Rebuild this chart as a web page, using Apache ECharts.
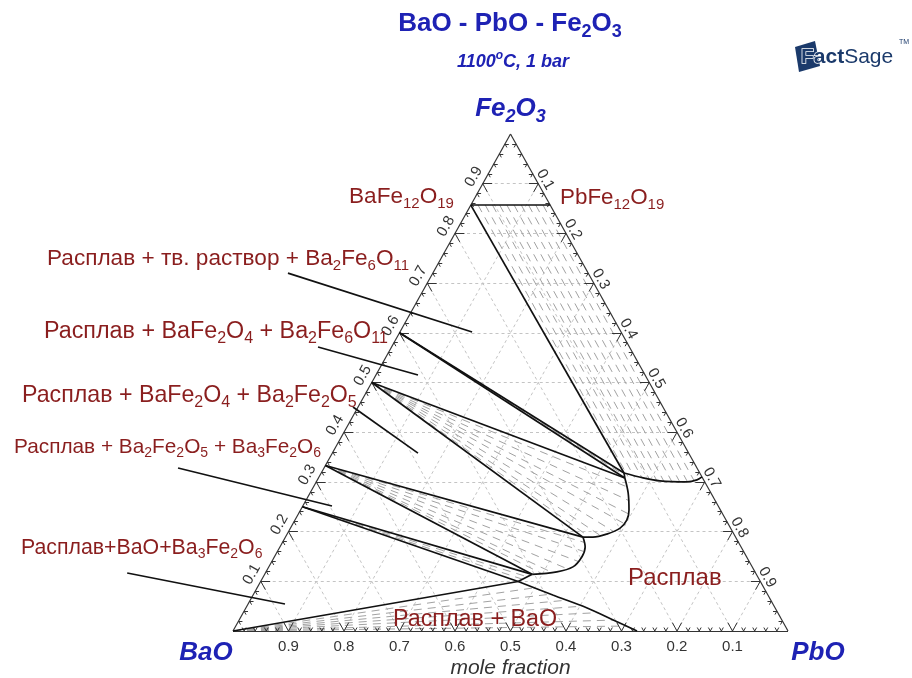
<!DOCTYPE html>
<html>
<head>
<meta charset="utf-8">
<script src="https://cdn.jsdelivr.net/npm/echarts@6.0.0/dist/echarts.min.js"></script>
<style>
html,body{margin:0;padding:0;background:#ffffff;}
#chart{width:912px;height:678px;}
</style>
</head>
<body>
<div id="chart"></div>
<script>
// ---------- DATA: compositions as [x(PbO), x(Fe2O3)];  x(BaO) = 1 - x(PbO) - x(Fe2O3)
const BaO_corner = [0, 0];
const BaFe12O19 = [0, 0.857];
const PbFe12O19 = [0.143, 0.857];
const Ba2Fe6O11 = [0, 0.600];
const BaFe2O4   = [0, 0.500];
const Ba2Fe2O5  = [0, 0.333];
const Ba3Fe2O6  = [0, 0.250];
// invariant liquid compositions
const J1a = [0.5455, 0.318];
const J1  = [0.552, 0.308];
const J2  = [0.536, 0.189];
const J3  = [0.482, 0.114];
const J4  = [0.464, 0.0996];

// liquidus curves
const liqSS      = [[0.5455,0.318],[0.585,0.308],[0.618,0.302],[0.668,0.300],[0.684,0.304],[0.690,0.310]];
const liqTop     = [[0.5455,0.318],[0.552,0.308]];
const liqBaFe2O4 = [[0.552,0.308],[0.573,0.278],[0.592,0.243],[0.598,0.223],[0.594,0.207],[0.576,0.195],[0.554,0.189],[0.536,0.189]];
const liqBa2Fe2O5= [[0.536,0.189],[0.550,0.169],[0.554,0.149],[0.548,0.129],[0.524,0.119],[0.482,0.114]];
const liqBa3Fe2O6= [[0.482,0.114],[0.464,0.0996]];
const liqBaO     = [[0.464,0.0996],[0.540,0.0724],[0.615,0.0463],[0.674,0.0221],[0.728,0]];

// straight phase boundaries (tie lines of three-phase triangles)
const boundaryTies = [
  [BaFe12O19, PbFe12O19], [BaFe12O19, J1a], [Ba2Fe6O11, J1a], [Ba2Fe6O11, J1],
  [BaFe2O4, J1], [BaFe2O4, J2], [Ba2Fe2O5, J2], [Ba2Fe2O5, J3],
  [Ba3Fe2O6, J3], [Ba3Fe2O6, J4], [BaO_corner, J4]
];

// tie-line hatching in two-phase fields
const ssTieSolidPbO = [0.013,0.026,0.039,0.052,0.065,0.078,0.091,0.104,0.117,0.130];
const ssTieLiquid   = [[0.556,0.311],[0.569,0.309],[0.583,0.308],[0.597,0.306],[0.611,0.304],[0.625,0.302],[0.640,0.301],[0.655,0.300],[0.669,0.300],[0.680,0.302]];
const fanBa2Fe6O11  = [[0.549,0.313]];
const fanBaFe2O4    = [[0.565,0.290],[0.583,0.262],[0.594,0.236],[0.597,0.216],[0.586,0.200],[0.566,0.192],[0.548,0.189]];
const fanBa2Fe2O5   = [[0.545,0.178],[0.552,0.160],[0.552,0.140],[0.540,0.125],[0.518,0.117],[0.500,0.115]];
const fanBa3Fe2O6   = [[0.476,0.109],[0.470,0.104]];
const fanBaO        = [[0.500,0.087],[0.535,0.074],[0.570,0.062],[0.605,0.050],[0.640,0.037],[0.675,0.022],[0.705,0.010]];

// label pointer lines (composition space)
const pointerLines = [
  [[-0.261,0.720],[0.130,0.6016]],
  [[-0.1325,0.5714],[0.0758,0.515]],
  [[-0.0092,0.4507],[0.1543,0.358]],
  [[-0.263,0.328],[0.0526,0.2515]],
  [[-0.249,0.1167],[0.0665,0.0543]]
];

// axis ticks
const tickValues = [0.1,0.2,0.3,0.4,0.5,0.6,0.7,0.8,0.9];
const tickLabels = ['0.1','0.2','0.3','0.4','0.5','0.6','0.7','0.8','0.9'];

// ---------- helpers
const toXY = ([p, f]) => [p + f / 2, f];
const seg = (a, b) => ({ coords: [toXY(a), toXY(b)] });
const add = (a, d, L) => [a[0] + d[0] * L, a[1] + d[1] * L];

const gridSegs = [];
tickValues.forEach(v => {
  gridSegs.push(seg([0, v], [1 - v, v]));
  gridSegs.push(seg([v, 0], [v, 1 - v]));
  gridSegs.push(seg([1 - v, 0], [0, 1 - v]));
});

const tickSegs = [];
function vTick(pt, d1, d2, L) { tickSegs.push(seg(pt, add(pt, d1, L))); tickSegs.push(seg(pt, add(pt, d2, L))); }
for (let k = 1; k < 50; k++) {
  const v = k / 50;
  const L = (k % 5 === 0) ? 0.017 : 0.007;
  vTick([v, 0], [0, 1], [-1, 1], L);          // bottom edge
  vTick([0, v], [1, 0], [1, -1], L);          // left edge
  vTick([v, 1 - v], [-1, 0], [0, -1], L);     // right edge
}

const hatchSegs = [];
ssTieSolidPbO.forEach((p, i) => hatchSegs.push(seg([p, 0.857], ssTieLiquid[i])));
fanBa2Fe6O11.forEach(q => hatchSegs.push(seg(Ba2Fe6O11, q)));
fanBaFe2O4.forEach(q => hatchSegs.push(seg(BaFe2O4, q)));
fanBa2Fe2O5.forEach(q => hatchSegs.push(seg(Ba2Fe2O5, q)));
fanBa3Fe2O6.forEach(q => hatchSegs.push(seg(Ba3Fe2O6, q)));
fanBaO.forEach(q => hatchSegs.push(seg(BaO_corner, q)));

const lineSeries = (data, style, extra) => Object.assign({
  type: 'lines', coordinateSystem: 'cartesian2d', silent: true, clip: false,
  data: data, lineStyle: Object.assign({ opacity: 1 }, style)
}, extra || {});

const curve = (pts) => ({
  type: 'line', data: pts.map(toXY), smooth: 0.35, symbol: 'none', silent: true, clip: false,
  lineStyle: { color: '#111', width: 1.7 }, z: 5
});

const chart = echarts.init(document.getElementById('chart'));
chart.setOption({
  animation: false,
  backgroundColor: '#ffffff',
  grid: { left: 233, top: 134, width: 555, height: 497 },
  xAxis: { type: 'value', min: 0, max: 1, show: false },
  yAxis: { type: 'value', min: 0, max: 1, show: false },
  series: [
    lineSeries(gridSegs, { color: '#c4c4c4', width: 1, type: [3, 3] }),
    lineSeries(hatchSegs, { color: '#a2a2a2', width: 1, type: [8, 6] }),
    lineSeries(boundaryTies.map(t => seg(t[0], t[1])), { color: '#111', width: 1.7 }, { z: 5 }),
    curve(liqSS), curve(liqTop), curve(liqBaFe2O4), curve(liqBa2Fe2O5), curve(liqBa3Fe2O6), curve(liqBaO),
    lineSeries([seg([0,0],[1,0]), seg([1,0],[0,1]), seg([0,1],[0,0])], { color: '#333', width: 1.2 }),
    lineSeries(tickSegs, { color: '#333', width: 1 }),
    lineSeries(pointerLines.map(l => seg(l[0], l[1])), { color: '#111', width: 1.7 }, { z: 6 })
  ]
});

// ---------- text (layout)
const FF = '"Liberation Sans", Arial, Helvetica, sans-serif';
const RED = '#8a1e1e';
const BLUE = '#1e22b4';
function rt(s) {
  return s.split(/(_\{[^}]*\}|\^\{[^}]*\})/).filter(x => x).map(p =>
    p.startsWith('_{') ? '{s|' + p.slice(2, -1) + '}' :
    p.startsWith('^{') ? '{u|' + p.slice(2, -1) + '}' : '{n|' + p + '}').join('');
}
function richStyle(size, color, weight, style) {
  const sub = Math.round(size * 0.68);
  return {
    n: { fontSize: size, fontFamily: FF, fill: color, fontWeight: weight, fontStyle: style, lineHeight: Math.round(size * 1.4) },
    s: { fontSize: sub, fontFamily: FF, fill: color, fontWeight: weight, fontStyle: style, padding: [Math.round(size * 0.62), 0, 0, 0] },
    u: { fontSize: sub, fontFamily: FF, fill: color, fontWeight: weight, fontStyle: style, padding: [0, 0, Math.round(size * 0.7), 0] }
  };
}
function txt(s, x, y, size, color, align, weight, style, rotation) {
  return {
    type: 'text', x: x, y: y, rotation: rotation || 0, silent: true, z: 20,
    style: { text: rt(s), rich: richStyle(size, color, weight || 'normal', style || 'normal'),
             align: align || 'left', verticalAlign: 'middle' }
  };
}
const px = (p) => chart.convertToPixel({ gridIndex: 0 }, toXY(p));
const graphics = [];
// tick labels
const rotL = 61 * Math.PI / 180;
tickValues.forEach((v, i) => {
  const a = px([0, v]);       graphics.push(txt(tickLabels[i], a[0] - 9, a[1] - 7, 15, '#333', 'center', 'normal', 'normal', rotL));
  const b = px([v, 1 - v]);   graphics.push(txt(tickLabels[i], b[0] + 7, b[1] - 4, 15, '#333', 'center', 'normal', 'normal', -rotL));
  const c = px([1 - v, 0]);   graphics.push(txt(tickLabels[i], c[0], c[1] + 16, 15, '#333', 'center'));
});
// corner labels
const apexPx = px([0, 1]), blPx = px([0, 0]), brPx = px([1, 0]);
graphics.push(txt('Fe_{2}O_{3}', apexPx[0], apexPx[1] - 25, 26, BLUE, 'center', 'bold', 'italic'));
graphics.push(txt('BaO', blPx[0] - 27, blPx[1] + 22, 26, BLUE, 'center', 'bold', 'italic'));
graphics.push(txt('PbO', brPx[0] + 30, brPx[1] + 22, 26, BLUE, 'center', 'bold', 'italic'));
graphics.push(txt('mole fraction', (blPx[0] + brPx[0]) / 2, brPx[1] + 37, 21, '#333', 'center', 'normal', 'italic'));
// title
graphics.push(txt('BaO - PbO - Fe_{2}O_{3}', 510, 24, 26, BLUE, 'center', 'bold'));
graphics.push(txt('1100^{o}C, 1 bar', 513, 62, 18, BLUE, 'center', 'bold', 'italic'));
// phase labels [text, left x, centre y, font size]
const phaseLabels = [
  ['BaFe_{12}O_{19}', 349, 197, 22.6],
  ['PbFe_{12}O_{19}', 560, 198, 22.4],
  ['Расплав + тв. раствор + Ba_{2}Fe_{6}O_{11}', 47, 259, 22.6],
  ['Расплав + BaFe_{2}O_{4} + Ba_{2}Fe_{6}O_{11}', 44, 332, 23.3],
  ['Расплав + BaFe_{2}O_{4} + Ba_{2}Fe_{2}O_{5}', 22, 396, 23.2],
  ['Расплав + Ba_{2}Fe_{2}O_{5} + Ba_{3}Fe_{2}O_{6}', 14, 447, 20.8],
  ['Расплав+BaO+Ba_{3}Fe_{2}O_{6}', 21, 548, 21.3],
  ['Расплав', 628, 578, 24],
  ['Расплав + BaO', 393, 620, 23.3]
];
phaseLabels.forEach(l => graphics.push(txt(l[0], l[1], l[2], l[3], RED, 'left')));
// FactSage logo
graphics.push({ type: 'polygon', silent: true, z: 19, shape: { points: [[795, 47], [815, 41], [820, 66], [799, 72]] }, style: { fill: '#1b3a6b' } });
graphics.push({ type: 'text', x: 801, y: 57, silent: true, z: 20,
  style: { text: '{a|Fact}{b|Sage}', verticalAlign: 'middle', align: 'left',
    rich: { a: { fontSize: 21, fontWeight: 'bold', fontFamily: FF, fill: '#1b3a6b', stroke: '#fff', lineWidth: 1.5 },
            b: { fontSize: 21, fontWeight: 'normal', fontFamily: FF, fill: '#1b3a6b' } } } });
graphics.push({ type: 'text', x: 899, y: 42, silent: true, z: 20,
  style: { text: 'TM', fontSize: 7, fontFamily: FF, fill: '#1b3a6b', align: 'left', verticalAlign: 'middle' } });
chart.setOption({ graphic: graphics });
</script>
</body>
</html>
